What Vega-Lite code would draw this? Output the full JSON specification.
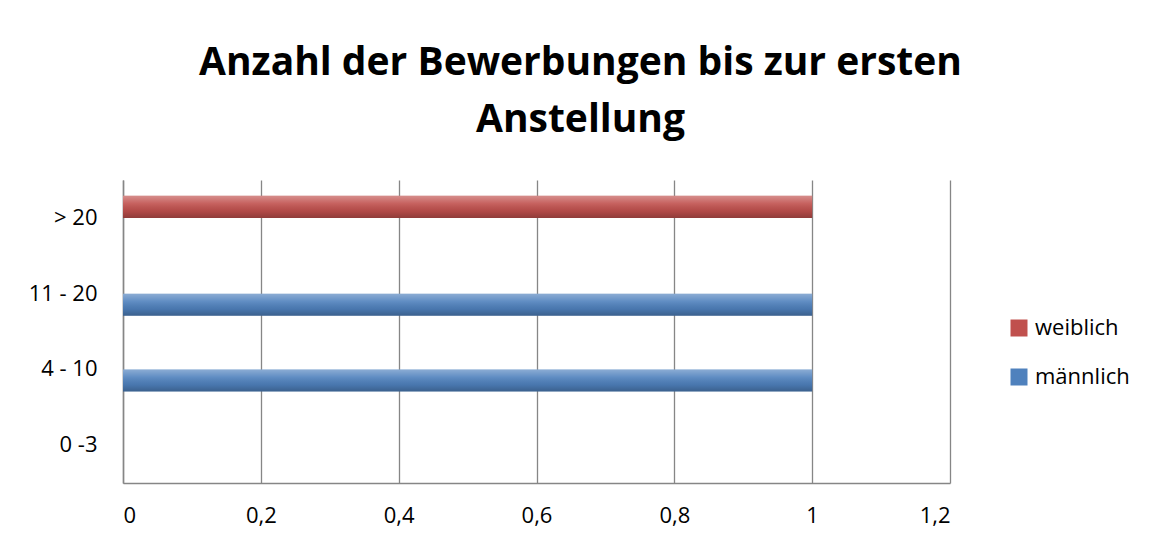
{
  "$schema": "https://vega.github.io/schema/vega-lite/v6.json",
  "width": 827,
  "height": 303,
  "autosize": {"type": "none"},
  "padding": {"left": 123, "top": 180, "right": 199, "bottom": 60},
  "background": "white",
  "config": {
    "view": {"stroke": null},
    "font": "Open Sans"
  },
  "title": {
    "text": ["Anzahl der Bewerbungen bis zur ersten", "Anstellung"],
    "font": "Open Sans",
    "fontSize": 39,
    "fontWeight": "bold",
    "color": "#000000",
    "anchor": "middle",
    "frame": "group",
    "dx": 44,
    "offset": 40,
    "lineHeight": 57
  },
  "data": {
    "values": [
      {"kategorie": "> 20", "geschlecht": "weiblich", "anzahl": 1},
      {"kategorie": "> 20", "geschlecht": "männlich", "anzahl": 0},
      {"kategorie": "11 - 20", "geschlecht": "weiblich", "anzahl": 0},
      {"kategorie": "11 - 20", "geschlecht": "männlich", "anzahl": 1},
      {"kategorie": "4 - 10", "geschlecht": "weiblich", "anzahl": 0},
      {"kategorie": "4 - 10", "geschlecht": "männlich", "anzahl": 1},
      {"kategorie": "0 -3", "geschlecht": "weiblich", "anzahl": 0},
      {"kategorie": "0 -3", "geschlecht": "männlich", "anzahl": 0}
    ]
  },
  "encoding": {
    "y": {
      "field": "kategorie",
      "type": "nominal",
      "scale": {"domain": ["> 20", "11 - 20", "4 - 10", "0 -3"], "paddingInner": 0, "paddingOuter": 0},
      "axis": {
        "title": null,
        "ticks": false,
        "labelPadding": 26,
        "labelFontSize": 22,
        "labelColor": "#000000",
        "domainColor": "#868686",
        "domainWidth": 1.5,
        "grid": false
      }
    },
    "yOffset": {
      "field": "geschlecht",
      "type": "nominal",
      "scale": {"domain": ["weiblich", "männlich"], "paddingOuter": 0.72, "paddingInner": 0}
    },
    "x": {
      "field": "anzahl",
      "type": "quantitative",
      "scale": {"domain": [0, 1.2], "nice": false},
      "axis": {
        "title": null,
        "values": [0, 0.2, 0.4, 0.6, 0.8, 1, 1.2],
        "format": ".1~f",
        "labelExpr": "replace(datum.label, '.', ',')",
        "ticks": false,
        "labelPadding": 22,
        "labelFontSize": 22,
        "labelColor": "#000000",
        "domainColor": "#868686",
        "domainWidth": 1.5,
        "grid": true,
        "gridColor": "#868686",
        "gridWidth": 1.3
      }
    }
  },
  "layer": [
    {
      "mark": {"type": "bar"},
      "encoding": {
        "color": {
          "field": "geschlecht",
          "type": "nominal",
          "scale": {"domain": ["weiblich", "männlich"], "range": ["#C0504D", "#4F81BD"]},
          "legend": {
            "title": null,
            "orient": "none",
            "legendX": 885,
            "legendY": 137,
            "symbolType": "square",
            "symbolSize": 289,
            "symbolStrokeWidth": 0,
            "labelFontSize": 22,
            "labelColor": "#000000",
            "labelOffset": 5,
            "rowPadding": 27
          }
        }
      }
    },
    {
      "mark": {
        "type": "bar",
        "fill": {
          "gradient": "linear",
          "x1": 0, "y1": 0, "x2": 0, "y2": 1,
          "stops": [
            {"offset": 0, "color": "rgba(255,255,255,0.35)"},
            {"offset": 0.35, "color": "rgba(255,255,255,0.1)"},
            {"offset": 0.7, "color": "rgba(0,0,0,0.08)"},
            {"offset": 1, "color": "rgba(0,0,0,0.25)"}
          ]
        }
      },
      "encoding": {}
    }
  ]
}
